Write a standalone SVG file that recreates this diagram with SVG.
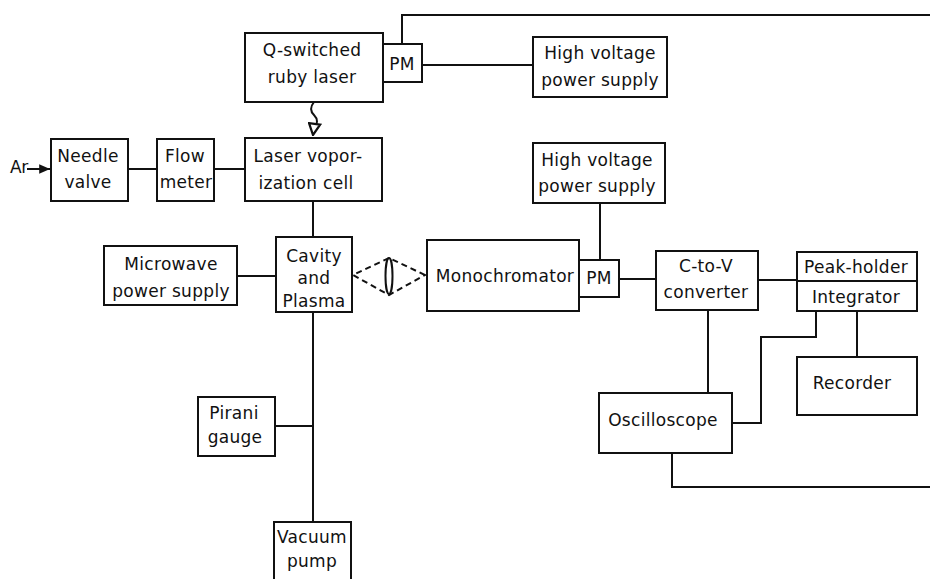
<svg xmlns="http://www.w3.org/2000/svg" width="930" height="579" viewBox="0 0 930 579">
  <style>
    .box { fill: #fff; stroke: #111; stroke-width: 2; }
    .wire { fill: none; stroke: #111; stroke-width: 2; }
    .dash { fill: none; stroke: #111; stroke-width: 2; stroke-dasharray: 6 4; }
    text { font-family: "DejaVu Sans", "Liberation Sans", sans-serif; font-size: 17px; fill: #111; text-anchor: middle; letter-spacing: 0.3px; }
  </style>
  <defs>
    <marker id="open-head" viewBox="0 0 10 10" refX="9" refY="5" markerWidth="7" markerHeight="7" orient="auto">
      <path d="M1,1 L9,5 L1,9 Z" fill="#fff" stroke="#111" stroke-width="1.6"/>
    </marker>
    <marker id="solid-head" viewBox="0 0 10 10" refX="9" refY="5" markerWidth="6" markerHeight="6" orient="auto">
      <path d="M0,1 L9,5 L0,9 Z" fill="#111"/>
    </marker>
  </defs>
  <rect width="930" height="579" fill="#fff"/>

  <g id="connectors">
    <!-- PM (laser) trigger out to the right edge -->
    <path class="wire" d="M402,44 V15 H930"/>
    <path class="wire" d="M422,65 H533"/>
    <!-- laser beam to vaporization cell -->
    <path class="wire" d="M314,102 C310,107 310,111 314,115 C318,119 318,124 314,128 L313,135" marker-end="url(#open-head)"/>
    <!-- gas line -->
    <path class="wire" d="M27,169 H50" marker-end="url(#solid-head)"/>
    <path class="wire" d="M128,169 H157"/>
    <path class="wire" d="M214,169 H245"/>
    <path class="wire" d="M313,201 V237"/>
    <path class="wire" d="M237,276 H276"/>
    <!-- vacuum line -->
    <path class="wire" d="M313,312 V522"/>
    <path class="wire" d="M275,426 H313"/>
    <!-- collection optics -->
    <path class="dash" d="M425,275 L389,258 L353,275 L389,295 Z"/>
    <ellipse cx="389" cy="276" rx="3.5" ry="18" fill="none" stroke="#111" stroke-width="2"/>
    <!-- detection chain -->
    <path class="wire" d="M600,203 V260"/>
    <path class="wire" d="M619,279 H656"/>
    <path class="wire" d="M758,280 H797"/>
    <path class="wire" d="M708,310 V393"/>
    <path class="wire" d="M816,311 V337 H761 V423 H732"/>
    <path class="wire" d="M857,311 V357"/>
    <path class="wire" d="M672,453 V487 H930"/>
  </g>

  <g id="ruby-laser">
    <rect class="box" x="245" y="33" width="138" height="69"/>
    <text x="312" y="56">Q-switched</text>
    <text x="312" y="83">ruby laser</text>
  </g>
  <g id="pm-laser">
    <rect class="box" x="383" y="44" width="39" height="38"/>
    <text x="402" y="70">PM</text>
  </g>
  <g id="hv-supply-1">
    <rect class="box" x="533" y="37" width="134" height="60"/>
    <text x="600" y="59">High voltage</text>
    <text x="600" y="86">power supply</text>
  </g>
  <g id="ar-label">
    <text x="10" y="173" style="text-anchor:start;letter-spacing:-0.5px">Ar</text>
  </g>
  <g id="needle-valve">
    <rect class="box" x="51" y="139" width="77" height="62"/>
    <text x="88" y="162">Needle</text>
    <text x="88" y="188">valve</text>
  </g>
  <g id="flow-meter">
    <rect class="box" x="157" y="139" width="57" height="62"/>
    <text x="185" y="162">Flow</text>
    <text x="186" y="188">meter</text>
  </g>
  <g id="vaporization-cell">
    <rect class="box" x="245" y="138" width="137" height="63"/>
    <text x="308" y="162">Laser vopor-</text>
    <text x="306" y="189">ization cell</text>
  </g>
  <g id="microwave-supply">
    <rect class="box" x="104" y="246" width="133" height="59"/>
    <text x="171" y="270">Microwave</text>
    <text x="171" y="297">power supply</text>
  </g>
  <g id="cavity-plasma">
    <rect class="box" x="276" y="237" width="76" height="75"/>
    <text x="314" y="262">Cavity</text>
    <text x="314" y="284">and</text>
    <text x="314" y="307">Plasma</text>
  </g>
  <g id="monochromator">
    <rect class="box" x="427" y="240" width="152" height="71"/>
    <text x="505" y="282">Monochromator</text>
  </g>
  <g id="pm-detector">
    <rect class="box" x="579" y="260" width="40" height="37"/>
    <text x="599" y="284">PM</text>
  </g>
  <g id="hv-supply-2">
    <rect class="box" x="533" y="143" width="132" height="60"/>
    <text x="597" y="166">High voltage</text>
    <text x="597" y="192">power supply</text>
  </g>
  <g id="c-to-v">
    <rect class="box" x="656" y="251" width="102" height="59"/>
    <text x="706" y="272">C-to-V</text>
    <text x="706" y="298">converter</text>
  </g>
  <g id="peak-integrator">
    <rect class="box" x="797" y="252" width="120" height="59"/>
    <line x1="797" y1="281" x2="917" y2="281" stroke="#111" stroke-width="2"/>
    <text x="856" y="273">Peak-holder</text>
    <text x="856" y="303">Integrator</text>
  </g>
  <g id="recorder">
    <rect class="box" x="797" y="357" width="120" height="58"/>
    <text x="852" y="389">Recorder</text>
  </g>
  <g id="oscilloscope">
    <rect class="box" x="599" y="393" width="133" height="60"/>
    <text x="663" y="426">Oscilloscope</text>
  </g>
  <g id="pirani-gauge">
    <rect class="box" x="198" y="397" width="77" height="59"/>
    <text x="234" y="419">Pirani</text>
    <text x="235" y="443">gauge</text>
  </g>
  <g id="vacuum-pump">
    <rect class="box" x="274" y="522" width="77" height="62"/>
    <text x="312" y="543">Vacuum</text>
    <text x="312" y="567">pump</text>
  </g>
</svg>
